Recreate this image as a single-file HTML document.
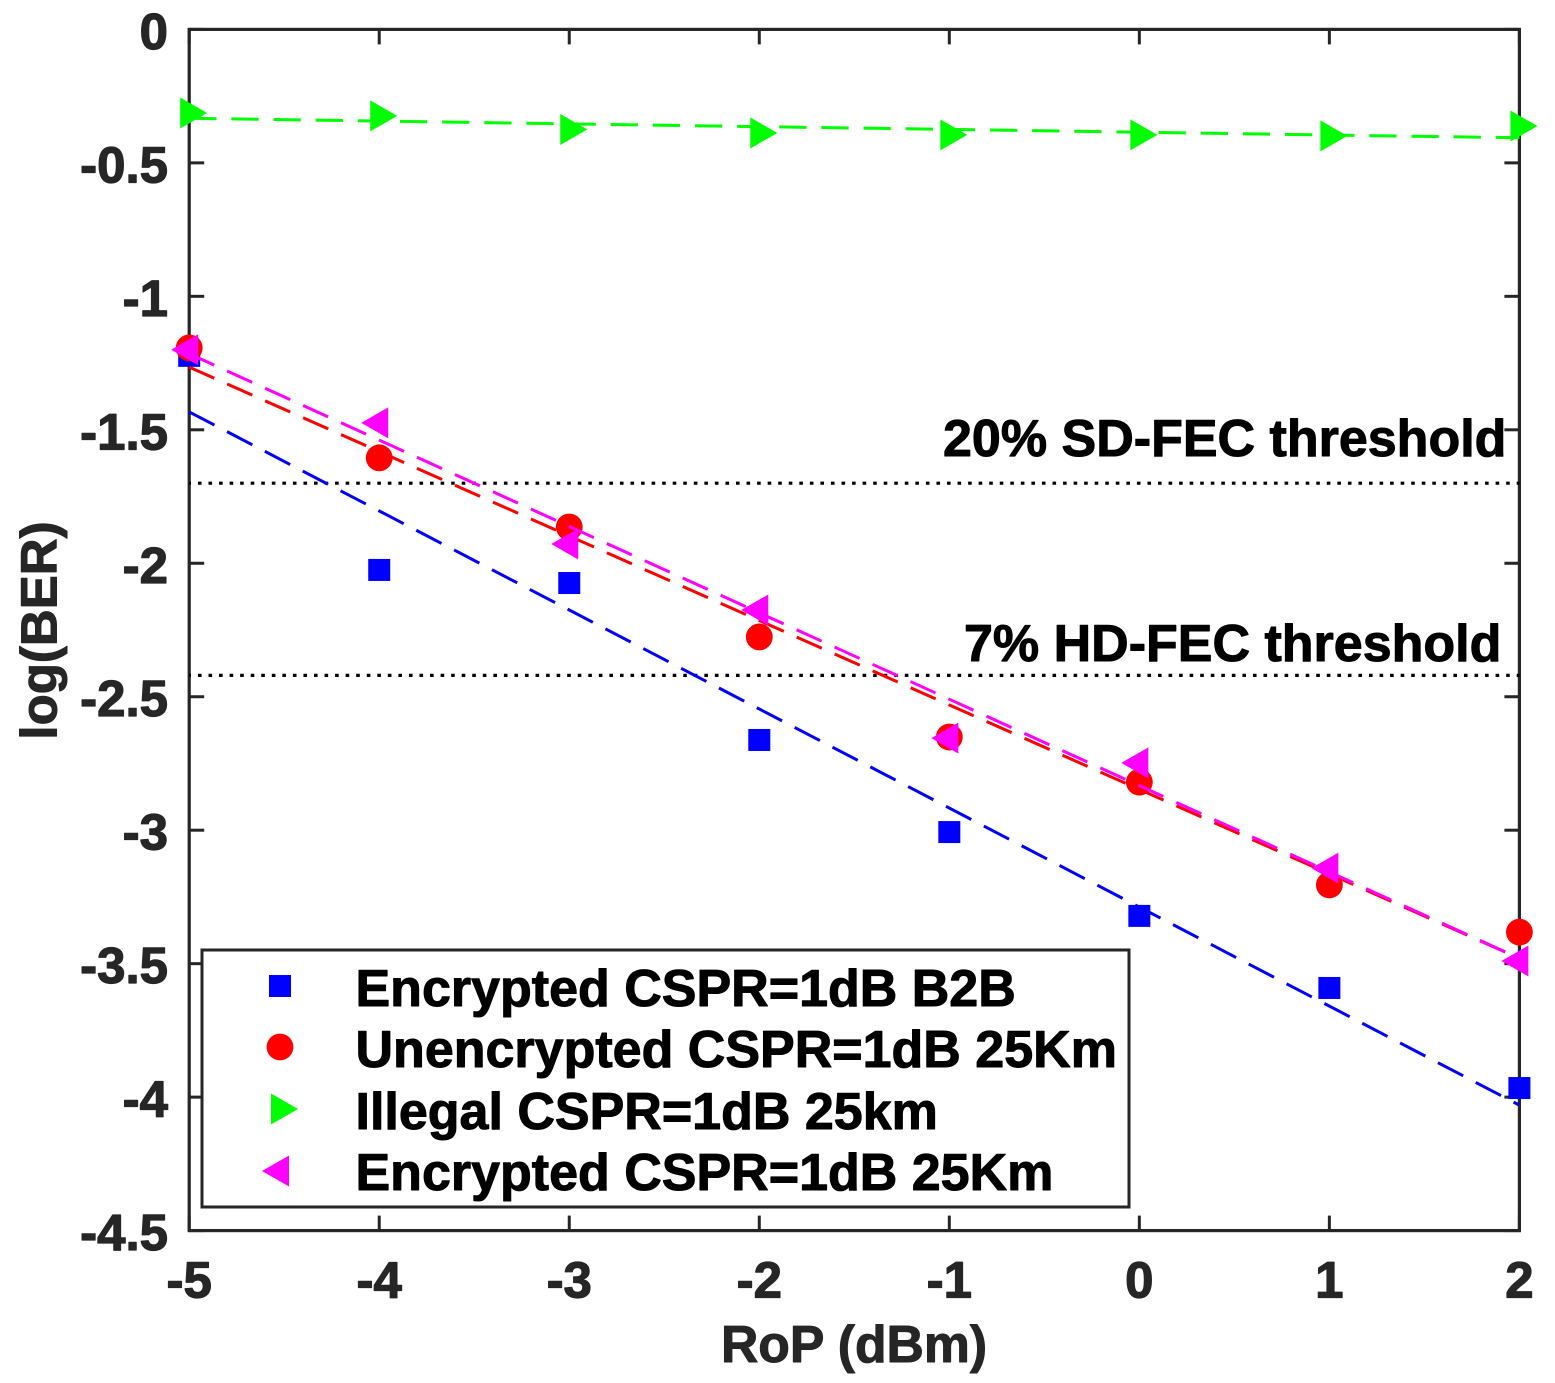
<!DOCTYPE html>
<html lang="en">
<head>
<meta charset="utf-8">
<title>log(BER) vs RoP</title>
<style>
html,body{margin:0;padding:0;background:#fff;}
svg{display:block;}
text{font-family:"Liberation Sans",Arial,sans-serif;font-weight:bold;stroke-linejoin:round;}
</style>
</head>
<body>
<svg id="chart" xmlns="http://www.w3.org/2000/svg" width="1555" height="1383" viewBox="0 0 1555 1383">
  <rect x="0" y="0" width="1555" height="1383" fill="#fff"/>
  <g id="axes"></g>
  <g id="thresholds"></g>
  <g id="plot"></g>
  <text x="943" y="456" font-size="52" fill="#000" stroke="#000" stroke-width="1">20% SD-FEC threshold</text>
  <text x="964" y="661" font-size="52" fill="#000" stroke="#000" stroke-width="1">7% HD-FEC threshold</text>
  <text x="854" y="1362" font-size="51.7" fill="#262626" stroke="#262626" stroke-width="1" text-anchor="middle">RoP (dBm)</text>
  <text transform="translate(56.5,630.5) rotate(-90)" font-size="51" fill="#262626" stroke="#262626" stroke-width="1" text-anchor="middle">log(BER)</text>
  <g id="legend">
    <rect x="202" y="950" width="927" height="257" fill="#fff" stroke="#262626" stroke-width="3"/>
  </g>
</svg>
<script>
const xTickValues = [-5, -4, -3, -2, -1, 0, 1, 2];
const yTickValues = [0, -0.5, -1, -1.5, -2, -2.5, -3, -3.5, -4, -4.5];
const xTickLabels = ['-5', '-4', '-3', '-2', '-1', '0', '1', '2'];
const yTickLabels = ['0', '-0.5', '-1', '-1.5', '-2', '-2.5', '-3', '-3.5', '-4', '-4.5'];
const rop = [-5, -4, -3, -2, -1, 0, 1, 2];
const encryptedB2B = [-1.223, -2.025, -2.074, -2.662, -3.007, -3.321, -3.591, -3.966];
const unencrypted25 = [-1.193, -1.605, -1.864, -2.276, -2.651, -2.82, -3.205, -3.382];
const illegal25 = [-0.313, -0.324, -0.375, -0.388, -0.395, -0.395, -0.399, -0.362];
const encrypted25 = [-1.2, -1.474, -1.928, -2.175, -2.655, -2.748, -3.142, -3.49];
const fitRop = [-5, 2];
const fitEncryptedB2B = [-1.433, -4.03];
const fitUnencrypted25 = [-1.265, -3.48];
const fitIllegal25 = [-0.333, -0.406];
const fitEncrypted25 = [-1.215, -3.48];
const thresholdValues = [-1.7, -2.42];
const legendLabels = ['Encrypted CSPR=1dB B2B', 'Unencrypted CSPR=1dB 25Km', 'Illegal CSPR=1dB 25km', 'Encrypted CSPR=1dB 25Km'];

const NS = 'http://www.w3.org/2000/svg';
const PLOT = { left: 189.2, right: 1519.4, top: 29.4, bottom: 1230.6 };
const xMin = -5, xMax = 2, yMin = -4.5, yMax = 0;
function sx(v) { return PLOT.left + (v - xMin) / (xMax - xMin) * (PLOT.right - PLOT.left); }
function sy(v) { return PLOT.top + (yMax - v) / (yMax - yMin) * (PLOT.bottom - PLOT.top); }

function make(tag, attrs, parent) {
  const el = document.createElementNS(NS, tag);
  for (const k in attrs) el.setAttribute(k, attrs[k]);
  parent.appendChild(el);
  return el;
}

function drawMarker(kind, color, cx, cy, parent) {
  let el;
  if (kind === 'square') {
    el = make('rect', { x: cx - 11, y: cy - 11, width: 22, height: 22, fill: color }, parent);
  } else if (kind === 'circle') {
    el = make('circle', { cx: cx, cy: cy, r: 13.4, fill: color }, parent);
  } else if (kind === 'right') {
    el = make('polygon', { points: (cx - 9) + ',' + (cy - 15.5) + ' ' + (cx + 18) + ',' + cy + ' ' + (cx - 9) + ',' + (cy + 15.5), fill: color }, parent);
  } else {
    el = make('polygon', { points: (cx + 9) + ',' + (cy - 15.5) + ' ' + (cx - 18) + ',' + cy + ' ' + (cx + 9) + ',' + (cy + 15.5), fill: color }, parent);
  }
  return el;
}

const seriesList = [
  { key: 'encrypted-b2b', color: '#0000ff', kind: 'square', values: encryptedB2B, fit: fitEncryptedB2B, dash: '28.5 14.17' },
  { key: 'unencrypted-25km', color: '#ff0000', kind: 'circle', values: unencrypted25, fit: fitUnencrypted25, dash: '27.5 14.05' },
  { key: 'illegal-25km', color: '#00ff00', kind: 'right', values: illegal25, fit: fitIllegal25, dash: '27.3 14.85' },
  { key: 'encrypted-25km', color: '#ff00ff', kind: 'left', values: encrypted25, fit: fitEncrypted25, dash: '27.5 14.2' }
];

/* axes first: the markers sit on top of the frame in the reference */
const axesG = document.getElementById('axes');
const frame = make('rect', { x: PLOT.left, y: PLOT.top, width: PLOT.right - PLOT.left, height: PLOT.bottom - PLOT.top, fill: 'none', stroke: '#262626', 'stroke-width': 3.2 }, axesG);



xTickValues.forEach(function (v, i) {
  const x = sx(v);
  const t1 = make('line', { x1: x, x2: x, y1: PLOT.bottom, y2: PLOT.bottom - 15, stroke: '#262626', 'stroke-width': 3 }, axesG);
  
  
  const t2 = make('line', { x1: x, x2: x, y1: PLOT.top, y2: PLOT.top + 15, stroke: '#262626', 'stroke-width': 3 }, axesG);
  
  
  const lab = make('text', { x: x, y: 1297.5, 'font-size': 51, fill: '#262626', stroke: '#262626', 'stroke-width': 1.2, 'text-anchor': 'middle' }, axesG);
  lab.textContent = xTickLabels[i];
  
  
});

yTickValues.forEach(function (v, i) {
  const y = sy(v);
  const t1 = make('line', { x1: PLOT.left, x2: PLOT.left + 15, y1: y, y2: y, stroke: '#262626', 'stroke-width': 3 }, axesG);
  
  
  const t2 = make('line', { x1: PLOT.right, x2: PLOT.right - 15, y1: y, y2: y, stroke: '#262626', 'stroke-width': 3 }, axesG);
  
  
  const lab = make('text', { x: 168, y: y + 19.5, 'font-size': 51, fill: '#262626', stroke: '#262626', 'stroke-width': 1.2, 'text-anchor': 'end' }, axesG);
  lab.textContent = yTickLabels[i];
  
  
});

const thresholdsG = document.getElementById('thresholds');
thresholdValues.forEach(function (v, i) {
  const line = make('line', { x1: PLOT.left, x2: PLOT.right, y1: sy(v), y2: sy(v), stroke: '#000', 'stroke-width': 3.2, 'stroke-dasharray': '3.6 6.95', 'stroke-dashoffset': 1.8 }, thresholdsG);
  
  
});

const plotG = document.getElementById('plot');

function drawPoints(s) {
  s.values.forEach(function (v, i) {
    const m = drawMarker(s.kind, s.color, sx(rop[i]), sy(v), plotG);
    
    
  });
}

function drawFit(s) {
  const fit = make('line', { x1: sx(fitRop[0]), y1: sy(s.fit[0]), x2: sx(fitRop[1]), y2: sy(s.fit[1]), stroke: s.color, 'stroke-width': 3, 'stroke-dasharray': s.dash }, plotG);
  
  
}

/* stacking: first three markers, their fit lines, then magenta markers and fit on top */
seriesList.slice(0, 3).forEach(drawPoints);
seriesList.slice(0, 3).forEach(drawFit);
drawPoints(seriesList[3]);
drawFit(seriesList[3]);

const legendG = document.getElementById('legend');
const legendMarkerY = [986, 1047, 1109, 1171];
const legendTextY = [1006, 1067, 1129, 1190];
seriesList.forEach(function (s, i) {
  const m = drawMarker(s.kind, s.color, 280, legendMarkerY[i], legendG);
  
  
  const t = make('text', { x: 355.5, y: legendTextY[i], 'font-size': 52, fill: '#000', stroke: '#000', 'stroke-width': 1 }, legendG);
  t.textContent = legendLabels[i];
  
  
});
</script>
</body>
</html>
